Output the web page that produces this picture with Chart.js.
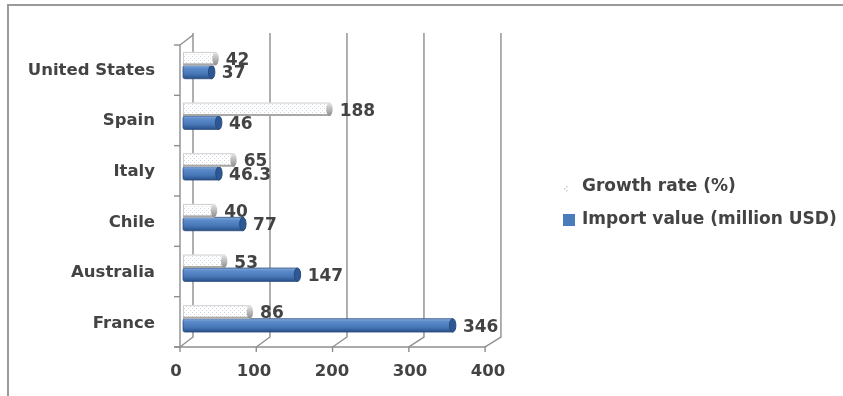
<!DOCTYPE html>
<html>
<head>
<meta charset="utf-8">
<script src="https://cdn.jsdelivr.net/npm/chart.js@4/dist/chart.umd.min.js"></script>
<style>
  html, body { margin: 0; padding: 0; background: #ffffff; }
  #wrap { position: relative; width: 843px; height: 396px; overflow: hidden; }
  #frame { position: absolute; left: 7px; top: 4px; right: 0; bottom: -4px;
           border-top: 2px solid #9a9a9a; border-left: 2px solid #9a9a9a; }
  canvas { position: absolute; left: 0; top: 0; }
</style>
</head>
<body>
<div id="wrap">
  <div id="frame"></div>
  <canvas id="chart" width="843" height="396"></canvas>
</div>
<script>
// Countries, top to bottom
const categories = ['United States', 'Spain', 'Italy', 'Chile', 'Australia', 'France'];
// Growth rate (%)
const growthRate = [42, 188, 65, 40, 53, 86];
// Import value (million USD)
const importValue = [37, 46, 46.3, 77, 147, 346];
// Value axis ticks
const axisTicks = [0, 100, 200, 300, 400];
const seriesNames = ['Growth rate (%)', 'Import value (million USD)'];

const TEXT = '#434343';
const LINE = '#8e8e8e';
const FONT = 'DejaVu Sans';

// light dotted fill for the growth-rate bars
function dotPattern(ctx) {
  const c = document.createElement('canvas');
  c.width = 4; c.height = 4;
  const g = c.getContext('2d');
  g.fillStyle = '#ffffff';
  g.fillRect(0, 0, 4, 4);
  g.fillStyle = '#cdd6e2';
  g.fillRect(0, 0, 1, 1);
  g.fillRect(2, 2, 1, 1);
  return ctx.createPattern(c, 'repeat');
}

// perspective box: back wall, floor edge and left wall
const wallPlugin = {
  id: 'wall',
  beforeDatasetsDraw(chart) {
    const { ctx, scales: { x, y } } = chart;
    const x0 = x.getPixelForValue(0);
    const backTop = 33, backBottom = 337, frontY = y.bottom;
    const back = p => x0 + 7 + p * 0.987;
    const front = p => x0 - 6 + p * 0.978;
    ctx.save();
    ctx.strokeStyle = LINE;
    ctx.lineWidth = 1.4;
    axisTicks.forEach(v => {
      const p = x.getPixelForValue(v) - x0;
      ctx.beginPath();
      ctx.moveTo(back(p), backTop);
      ctx.lineTo(back(p), backBottom);
      ctx.lineTo(front(p), frontY);
      ctx.lineTo(front(p), frontY + 5);
      ctx.stroke();
    });
    // front floor edge
    const fl = front(0), fr = front(x.getPixelForValue(400) - x0);
    ctx.beginPath();
    ctx.moveTo(fl - 6, frontY);
    ctx.lineTo(fr, frontY);
    ctx.stroke();
    // left wall
    ctx.beginPath();
    ctx.moveTo(fl, frontY);
    ctx.lineTo(fl, y.top + 2);
    ctx.lineTo(back(0), backTop + 2);
    ctx.stroke();
    // category tick marks
    const n = categories.length;
    for (let i = 0; i <= n; i++) {
      const ty = (y.top + 2) + i * (y.bottom - y.top - 2) / n;
      ctx.beginPath();
      ctx.moveTo(fl - 6, ty);
      ctx.lineTo(fl, ty);
      ctx.stroke();
    }
    ctx.restore();
  }
};

// rounded-tube bars with end caps
const tubePlugin = {
  id: 'tubes',
  beforeDatasetDraw(chart, args) {
    const { ctx } = chart;
    const meta = args.meta;
    const idx = args.index;
    const pat = dotPattern(ctx);
    ctx.save();
    meta.data.forEach(el => {
      const h = el.height;
      const yc = el.y - 3;
      const y0 = yc - h / 2, y1 = yc + h / 2;
      const xb = el.base - 3, xe = el.x;
      const r = 3.2;
      if (idx === 1) {
        const g = ctx.createLinearGradient(0, y0, 0, y1);
        g.addColorStop(0, '#86a9d8');
        g.addColorStop(0.22, '#5b8bca');
        g.addColorStop(0.65, '#4676b6');
        g.addColorStop(1, '#2a5088');
        ctx.fillStyle = g;
        ctx.beginPath();
        ctx.moveTo(xb + 2, y0);
        ctx.lineTo(xe - r, y0);
        ctx.lineTo(xe - r, y1);
        ctx.lineTo(xb + 2, y1);
        ctx.quadraticCurveTo(xb, y1, xb, y1 - 2);
        ctx.lineTo(xb, y0 + 2);
        ctx.quadraticCurveTo(xb, y0, xb + 2, y0);
        ctx.fill();
        ctx.strokeStyle = 'rgba(35,70,120,0.7)';
        ctx.lineWidth = 1;
        ctx.stroke();
        ctx.beginPath();
        ctx.ellipse(xe - r, yc, r, h / 2, 0, 0, Math.PI * 2);
        ctx.fillStyle = '#2d5894';
        ctx.fill();
        ctx.strokeStyle = '#264a7c';
        ctx.stroke();
      } else {
        ctx.fillStyle = pat;
        ctx.fillRect(xb, y0, xe - r - xb, h);
        ctx.strokeStyle = '#cfcfcf';
        ctx.lineWidth = 1;
        ctx.strokeRect(xb + 0.5, y0 + 0.5, xe - r - xb, h - 1);
        ctx.fillStyle = '#a8a8a8';
        ctx.fillRect(xb, y1 - 2, xe - r - xb, 2);
        const g = ctx.createLinearGradient(0, y0, 0, y1);
        g.addColorStop(0, '#e6e6e6');
        g.addColorStop(1, '#8d8d8d');
        ctx.beginPath();
        ctx.ellipse(xe - r, yc, r, h / 2, 0, 0, Math.PI * 2);
        ctx.fillStyle = g;
        ctx.fill();
      }
    });
    ctx.restore();
    return false;
  }
};

// value labels next to each bar end
const valueLabelPlugin = {
  id: 'valueLabels',
  afterDatasetsDraw(chart) {
    const { ctx } = chart;
    ctx.save();
    ctx.font = 'bold 17px "' + FONT + '"';
    ctx.fillStyle = TEXT;
    ctx.textAlign = 'left';
    ctx.textBaseline = 'middle';
    chart.data.datasets.forEach((ds, di) => {
      chart.getDatasetMeta(di).data.forEach((el, i) => {
        ctx.fillText(String(ds.data[i]), el.x + 7, el.y - 1);
      });
    });
    ctx.restore();
  }
};

// legend at the right
const sideLegendPlugin = {
  id: 'sideLegend',
  afterDraw(chart) {
    const { ctx } = chart;
    ctx.save();
    ctx.font = 'bold 17px "' + FONT + '"';
    ctx.textBaseline = 'middle';
    ctx.textAlign = 'left';
    const rows = [187, 220];
    // dotted marker
    ctx.fillStyle = '#c3ccd8';
    [[566, rows[0] - 1], [564, rows[0] + 1], [566, rows[0] + 3]].forEach(p => ctx.fillRect(p[0], p[1], 1.5, 1.5));
    // solid marker
    ctx.fillStyle = '#4a7cbc';
    ctx.fillRect(563, rows[1] - 6, 12, 12);
    ctx.fillStyle = TEXT;
    chart.data.datasets.forEach((ds, i) => ctx.fillText(ds.label, 582, rows[i]));
    ctx.restore();
  }
};

new Chart(document.getElementById('chart'), {
  type: 'bar',
  data: {
    labels: categories,
    datasets: [
      { label: seriesNames[0], data: growthRate, backgroundColor: '#ffffff' },
      { label: seriesNames[1], data: importValue, backgroundColor: '#4a7cbc' }
    ]
  },
  options: {
    indexAxis: 'y',
    responsive: false,
    animation: false,
    events: [],
    layout: { padding: { left: 0, right: 345, top: 43, bottom: 0 } },
    datasets: { bar: { categoryPercentage: 0.53, barPercentage: 1.0 } },
    plugins: { legend: { display: false }, tooltip: { enabled: false } },
    scales: {
      x: {
        min: 0, max: 400,
        afterBuildTicks: s => { s.ticks = axisTicks.map(v => ({ value: v })); },
        afterFit: s => { s.height = 49; },
        grid: { display: false, drawTicks: false },
        border: { display: false },
        ticks: { color: TEXT, font: { family: FONT, size: 16.5, weight: 'bold' }, padding: 15, labelOffset: -10 }
      },
      y: {
        afterFit: s => { s.width = 186; },
        grid: { display: false, drawTicks: false },
        border: { display: false },
        ticks: { color: TEXT, font: { family: FONT, size: 16.5, weight: 'bold' }, padding: 31, labelOffset: 2 }
      }
    }
  },
  plugins: [wallPlugin, tubePlugin, valueLabelPlugin, sideLegendPlugin]
});
</script>
</body>
</html>
